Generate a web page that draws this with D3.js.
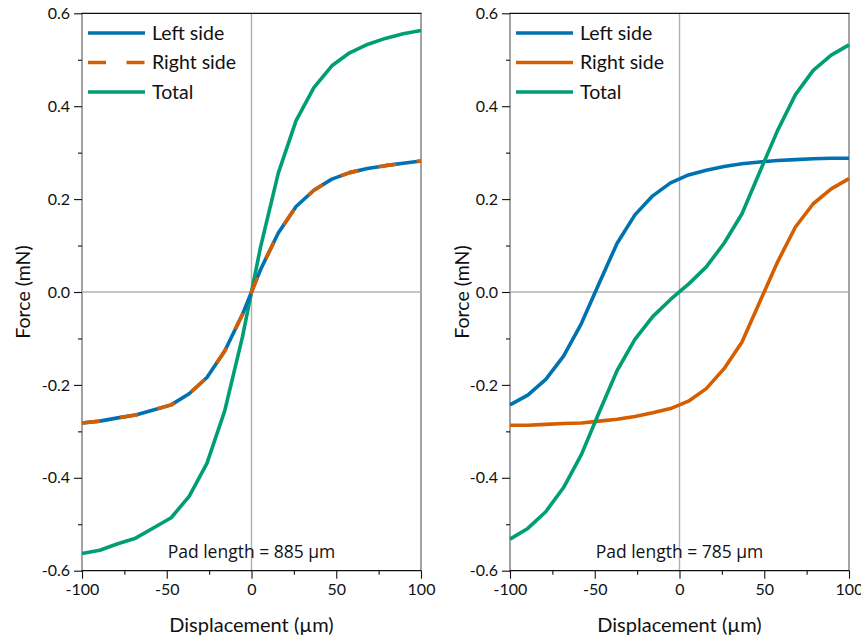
<!DOCTYPE html>
<html>
<head>
<meta charset="utf-8">
<script src="https://cdn.jsdelivr.net/npm/d3@7"></script>
<style>
  html, body { margin: 0; padding: 0; background: #fff; }
  svg { display: block; }
  .tick text { font-family: Lato, "DejaVu Sans", sans-serif; font-size: 16px; fill: #111; }
</style>
</head>
<body>
<svg id="chart" width="861" height="640"></svg>
<script>
// Displacement samples (µm), shared by both pads
const displacement = [-100, -89.5, -78.9, -68.4, -57.9, -47.4, -36.8, -26.3, -15.8, -5.3,
                      5.3, 15.8, 26.3, 36.8, 47.4, 57.9, 68.4, 78.9, 89.5, 100];

// Pad length 885 µm: forces (mN)
const pad885Left  = [-0.282, -0.278, -0.271, -0.265, -0.254, -0.243, -0.219, -0.184, -0.127, -0.048,
                     0.048, 0.127, 0.184, 0.219, 0.243, 0.257, 0.266, 0.272, 0.277, 0.282];
const pad885Right = [-0.282, -0.278, -0.271, -0.265, -0.254, -0.243, -0.219, -0.184, -0.127, -0.048,
                     0.048, 0.127, 0.184, 0.219, 0.243, 0.257, 0.266, 0.272, 0.277, 0.282];
const pad885Total = [-0.563, -0.556, -0.542, -0.530, -0.508, -0.486, -0.440, -0.369, -0.256, -0.096,
                     0.096, 0.256, 0.369, 0.440, 0.487, 0.515, 0.533, 0.546, 0.556, 0.563];

// Pad length 785 µm: forces (mN)
const pad785Left  = [-0.243, -0.222, -0.188, -0.138, -0.068, 0.019, 0.105, 0.166, 0.207, 0.235,
                     0.252, 0.262, 0.270, 0.276, 0.280, 0.283, 0.285, 0.287, 0.288, 0.288];
const pad785Right = [-0.287, -0.287, -0.285, -0.283, -0.282, -0.278, -0.274, -0.268, -0.260, -0.251,
                     -0.235, -0.208, -0.165, -0.108, -0.021, 0.065, 0.140, 0.190, 0.222, 0.244];
const pad785Total = [-0.532, -0.509, -0.473, -0.421, -0.350, -0.259, -0.169, -0.102, -0.053, -0.016,
                     0.017, 0.054, 0.105, 0.168, 0.259, 0.348, 0.425, 0.477, 0.510, 0.532];

// Axis ticks
const xMajor = [-100, -50, 0, 50, 100];
const xMinor = [-75, -25, 25, 75];
const yMajor = [-0.6, -0.4, -0.2, 0.0, 0.2, 0.4, 0.6];
const yMinor = [-0.5, -0.3, -0.1, 0.1, 0.3, 0.5];

const seriesNames = ["Left side", "Right side", "Total"];
const colors = { "Left side": "#0072B2", "Right side": "#D55E00", "Total": "#009E73" };

const panels = [
  { x0: 82,  x1: 421, label: "Pad length = 885 µm", dashedRight: true, titleOffset: 52,
    series: { "Left side": pad885Left, "Right side": pad885Right, "Total": pad885Total } },
  { x0: 510, x1: 849, label: "Pad length = 785 µm", dashedRight: false, titleOffset: 41,
    series: { "Left side": pad785Left, "Right side": pad785Right, "Total": pad785Total } }
];

const yTop = 13.3, yBottom = 570.7;
const svg = d3.select("#chart");
const fontMain = "Lato, 'DejaVu Sans', sans-serif";
const dash = "18,20.5";

panels.forEach(p => {
  const x = d3.scaleLinear().domain([-100, 100]).range([p.x0, p.x1]);
  const y = d3.scaleLinear().domain([-0.6, 0.6]).range([yBottom, yTop]);
  const g = svg.append("g");

  // Reference lines: panel edges and the zero lines
  g.selectAll("line.vref").data([-100, 100]).enter().append("line")
    .attr("x1", d => x(d)).attr("x2", d => x(d))
    .attr("y1", yTop).attr("y2", yBottom)
    .attr("stroke", "#8c8c8c").attr("stroke-width", 1.6);
  g.append("line")
    .attr("x1", x(0)).attr("x2", x(0)).attr("y1", yTop).attr("y2", yBottom)
    .attr("stroke", "#b0b0b0").attr("stroke-width", 1.4);
  g.append("line")
    .attr("x1", p.x0).attr("x2", p.x1).attr("y1", y(0)).attr("y2", y(0))
    .attr("stroke", "#b0b0b0").attr("stroke-width", 1.4);

  // Y axis: major + minor ticks
  const yAx = g.append("g").attr("transform", `translate(${p.x0},0)`)
    .call(d3.axisLeft(y).tickValues(yMajor).tickSize(8).tickPadding(4)
      .tickFormat(d => d.toFixed(1)));
  yAx.select(".domain").remove();
  const yAxMinor = g.append("g").attr("transform", `translate(${p.x0},0)`)
    .call(d3.axisLeft(y).tickValues(yMinor).tickSize(4).tickFormat(""));
  yAxMinor.select(".domain").remove();

  // X axis: major + minor ticks
  const xAx = g.append("g").attr("transform", `translate(0,${yBottom})`)
    .call(d3.axisBottom(x).tickValues(xMajor).tickSize(8).tickPadding(5)
      .tickFormat(d => String(d)));
  xAx.select(".domain").remove();
  const xAxMinor = g.append("g").attr("transform", `translate(0,${yBottom})`)
    .call(d3.axisBottom(x).tickValues(xMinor).tickSize(4).tickFormat(""));
  xAxMinor.select(".domain").remove();
  g.selectAll(".tick line").attr("stroke", "#111").attr("stroke-width", 1.1);

  // Top and bottom frame
  [yTop, yBottom].forEach(yy => {
    g.append("line").attr("x1", p.x0 - 0.5).attr("x2", p.x1 + 0.5)
      .attr("y1", yy).attr("y2", yy)
      .attr("stroke", "#111").attr("stroke-width", 1.3);
  });

  // Curves
  const line = d3.line().x((d, i) => x(displacement[i])).y(d => y(d));
  const drawOrder = p.dashedRight ? ["Total", "Left side", "Right side"] : ["Left side", "Right side", "Total"];
  drawOrder.forEach(name => {
    g.append("path")
      .datum(p.series[name])
      .attr("d", line)
      .attr("fill", "none")
      .attr("stroke", colors[name])
      .attr("stroke-width", 3.6)
      .attr("stroke-linejoin", "round")
      .attr("stroke-dasharray", (name === "Right side" && p.dashedRight) ? dash : null);
  });

  // Legend
  const legend = g.append("g");
  seriesNames.forEach((name, i) => {
    const ly = 33 + i * 29.5;
    legend.append("line")
      .attr("x1", p.x0 + 6).attr("x2", p.x0 + 63)
      .attr("y1", ly).attr("y2", ly)
      .attr("stroke", colors[name]).attr("stroke-width", 3.6)
      .attr("stroke-dasharray", (name === "Right side" && p.dashedRight) ? dash : null);
    legend.append("text")
      .attr("x", p.x0 + 70).attr("y", ly + 6.5)
      .attr("font-family", fontMain).attr("font-size", 19.5)
      .attr("fill", "#111")
      .text(name);
  });

  // Pad length annotation
  g.append("text")
    .attr("x", x(0)).attr("y", 558)
    .attr("text-anchor", "middle")
    .attr("font-family", "'Open Sans', 'DejaVu Sans', sans-serif")
    .attr("font-size", 17.5)
    .attr("fill", "#111")
    .text(p.label);

  // Axis titles
  g.append("text")
    .attr("x", x(0)).attr("y", 632)
    .attr("text-anchor", "middle")
    .attr("font-family", fontMain).attr("font-size", 20)
    .attr("fill", "#111")
    .text("Displacement (µm)");
  g.append("text")
    .attr("transform", `translate(${p.x0 - p.titleOffset},${y(0)}) rotate(-90)`)
    .attr("text-anchor", "middle")
    .attr("font-family", fontMain).attr("font-size", 19.5)
    .attr("fill", "#111")
    .text("Force (mN)");
});
</script>
</body>
</html>
